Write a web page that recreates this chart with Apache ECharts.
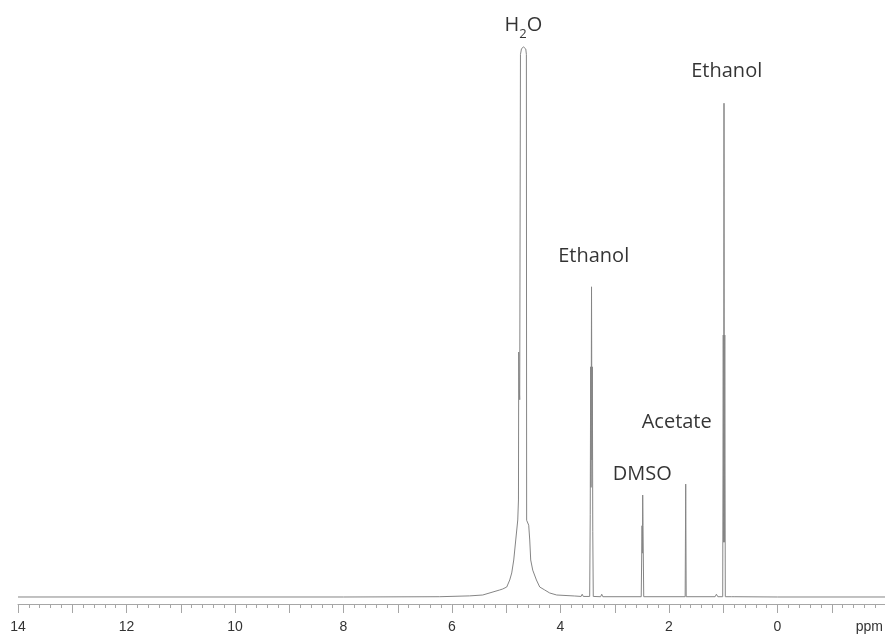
<!DOCTYPE html>
<html>
<head>
<meta charset="utf-8">
<script src="https://cdn.jsdelivr.net/npm/echarts@6/dist/echarts.min.js"></script>
<style>
html,body{margin:0;padding:0;background:#fff;}
#chart{width:885px;height:637px;}
</style>
</head>
<body>
<div id="chart"></div>
<script>
// Chemical shift (ppm) and relative intensity
const spectrumPpm = [
  14.0, 8.0, 6.227, 5.674, 5.434, 5.121, 5.065, 4.991, 4.936, 4.899, 4.862, 4.825, 4.788, 4.775, 4.770, 4.760, 4.752,
  4.738, 4.72, 4.70, 4.684, 4.66, 4.64, 4.629, 4.624, 4.586, 4.567, 4.549, 4.512, 4.444, 4.383, 4.291, 4.199, 4.070, 3.738,
  3.62, 3.60, 3.58,
  3.462, 3.452, 3.444, 3.437, 3.428, 3.420, 3.413, 3.405, 3.396,
  3.26, 3.24, 3.22,
  2.512, 2.497, 2.490, 2.485, 2.479, 2.466,
  1.702, 1.692, 1.683,
  1.15, 1.126, 1.10,
  1.010, 1.000, 0.993, 0.986, 0.979, 0.972, 0.962,
  0.85, 0.826, 0.80,
  0.0, -2.0
];
const spectrumIntensity = [
  0, 0, 0.05, 0.2, 0.36, 1.28, 1.46, 1.82, 3.1, 4.38, 6.75, 10.4, 14.05, 17.7, 44.7, 38, 36,
  99, 100, 100.3, 100.4, 100.2, 100, 99, 14, 13.1, 10.4, 6.75, 4.9, 3.1, 1.82, 1.28, 0.73, 0.36, 0.18,
  0.1, 0.5, 0.1,
  0.1, 15, 42, 20, 56.6, 25, 42, 12, 0.1,
  0.05, 0.5, 0.05,
  0.05, 13, 8, 18.6, 13, 0.05,
  0.05, 20.6, 0.05,
  0.05, 0.5, 0.05,
  0.05, 47.8, 10, 90.1, 10, 47.8, 0.05,
  0.05, 0.4, 0.05,
  0, 0
];

// Tick labels shown on the ppm axis
const tickLabels = [14, 12, 10, 8, 6, 4, 2, 0];

// Peak annotations (text, ppm, intensity level)
const peakNames = ['H2O', 'Ethanol', 'Ethanol', 'DMSO', 'Acetate'];
const peakPpm = [4.684, 3.388, 0.936, 2.494, 1.858];
const peakLevel = [104.4, 62.2, 96.0, 22.4, 31.9];

const chart = echarts.init(document.getElementById('chart'), null, {renderer: 'canvas'});

const lineData = spectrumPpm.map((p, i) => [p, spectrumIntensity[i]]);
const labelData = peakNames.map((n, i) => ({name: n, value: [peakPpm[i], peakLevel[i]]}));

const labelFont = '"Open Sans", "Noto Sans", sans-serif';
const labelColor = '#000000';

chart.setOption({
  animation: false,
  backgroundColor: '#ffffff',
  grid: {left: 18, width: 868, top: 0, bottom: 33, containLabel: false, outerBoundsMode: 'none'},
  xAxis: {
    type: 'value',
    min: -2,
    max: 14,
    interval: 1,
    inverse: true,
    axisLine: {show: true, onZero: false, lineStyle: {color: '#a6a6a6', width: 1}},
    axisTick: {show: true, length: 9, lineStyle: {color: '#a6a6a6', width: 1}},
    minorTick: {show: true, splitNumber: 5, length: 4, lineStyle: {color: '#a6a6a6', width: 1}},
    splitLine: {show: false},
    minorSplitLine: {show: false},
    axisLabel: {
      margin: 16,
      color: '#333333',
      fontSize: 14,
      fontFamily: '"Liberation Sans", Arial, sans-serif',
      formatter: v => tickLabels.includes(v) ? String(v) : ''
    }
  },
  yAxis: {
    type: 'value',
    min: -1.28,
    max: 108.94,
    show: false,
    splitLine: {show: false}
  },
  series: [
    {
      type: 'line',
      data: lineData,
      showSymbol: false,
      symbol: 'none',
      lineStyle: {color: '#858585', width: 1},
      clip: true,
      z: 2
    },
    {
      type: 'scatter',
      data: labelData,
      symbolSize: 1,
      itemStyle: {color: 'rgba(0,0,0,0)'},
      silent: true,
      z: 3,
      label: {
        show: true,
        position: 'inside',
        color: labelColor,
        fontSize: 20,
        fontFamily: labelFont,
        formatter: p => p.name === 'H2O' ? '{m|H}{s|2}{m|O}' : p.name,
        rich: {
          m: {fontSize: 20, fontFamily: labelFont, color: labelColor, lineHeight: 26, verticalAlign: 'middle'},
          s: {fontSize: 13, fontFamily: labelFont, color: labelColor, lineHeight: 26, verticalAlign: 'bottom', padding: [0, 0, -3, 0]}
        }
      }
    }
  ],
  graphic: [
    {
      type: 'text',
      right: 2,
      top: 620,
      style: {text: 'ppm', fill: '#333333', fontSize: 14, fontFamily: '"Liberation Sans", Arial, sans-serif'}
    }
  ]
});
</script>
</body>
</html>
